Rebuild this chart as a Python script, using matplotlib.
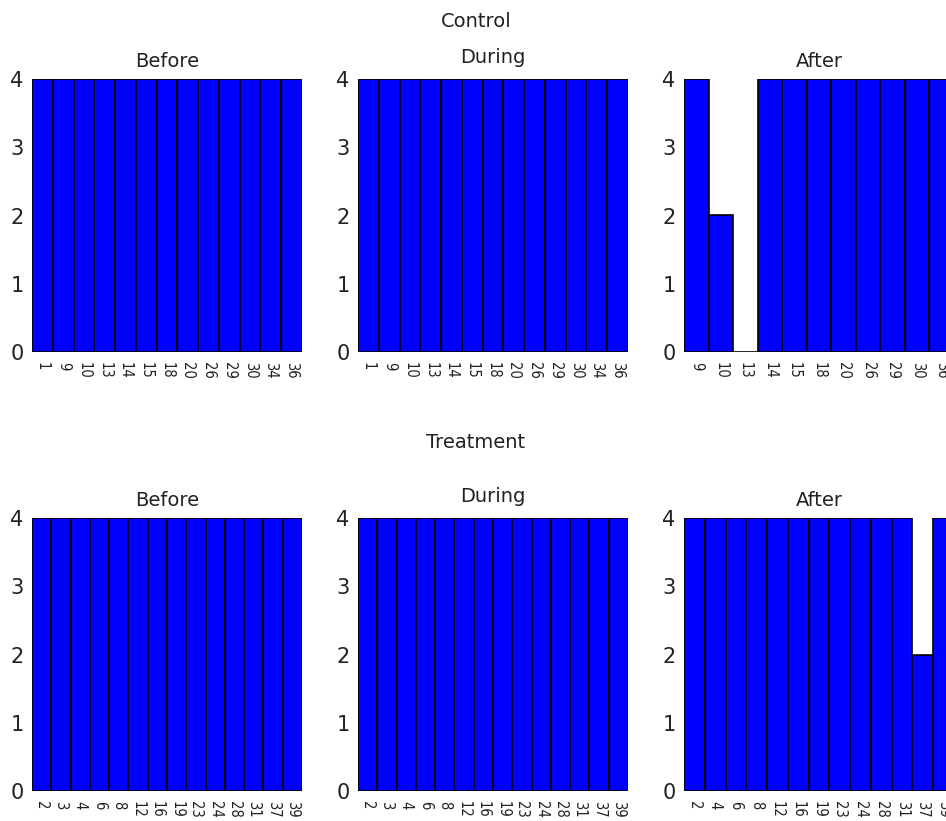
import matplotlib
matplotlib.use('Agg')
import matplotlib.pyplot as plt

# subject ids and counts per period
control_before_ids = [1, 9, 10, 13, 14, 15, 18, 20, 26, 29, 30, 34, 36]
control_before = [4, 4, 4, 4, 4, 4, 4, 4, 4, 4, 4, 4, 4]
control_during_ids = [1, 9, 10, 13, 14, 15, 18, 20, 26, 29, 30, 34, 36]
control_during = [4, 4, 4, 4, 4, 4, 4, 4, 4, 4, 4, 4, 4]
control_after_ids = [9, 10, 13, 14, 15, 18, 20, 26, 29, 30, 36]
control_after = [4, 2, 0, 4, 4, 4, 4, 4, 4, 4, 4]

treat_before_ids = [2, 3, 4, 6, 8, 12, 16, 19, 23, 24, 28, 31, 37, 39]
treat_before = [4, 4, 4, 4, 4, 4, 4, 4, 4, 4, 4, 4, 4, 4]
treat_during_ids = [2, 3, 4, 6, 8, 12, 16, 19, 23, 24, 28, 31, 37, 39]
treat_during = [4, 4, 4, 4, 4, 4, 4, 4, 4, 4, 4, 4, 4, 4]
treat_after_ids = [2, 4, 6, 8, 12, 16, 19, 23, 24, 28, 31, 37, 39]
treat_after = [4, 4, 4, 4, 4, 4, 4, 4, 4, 4, 4, 2, 4]

periods = ['Before', 'During', 'After']

W = 946.0
H = 821.0
fig = plt.figure(figsize=(W/100, H/100), dpi=100)
plt.rcParams['font.family'] = 'DejaVu Sans'


def draw(left, bottom, ids, counts, title):
	ax = fig.add_axes([left/W, bottom/H, 270/W, 273/H])
	x = range(len(ids))
	ax.bar(x, counts, width=1.0, color='#0000ff', edgecolor='black', linewidth=1.2)
	ax.set_xlim(-0.5, len(ids)-0.5)
	ax.set_ylim(0, 4)
	ax.set_yticks([0, 1, 2, 3, 4])
	ax.set_xticks(list(x))
	ax.set_xticklabels([str(i) for i in ids], rotation=270, fontsize=10.5, fontstretch='condensed')
	ax.tick_params(axis='y', length=0, pad=6, labelsize=15, labelcolor='#222222')
	ax.tick_params(axis='x', length=0, pad=7, labelcolor='#222222')
	for s in ax.spines.values():
		s.set_visible(False)
	pad = 8.5
	if title == 'During':
		pad = 11.5
	ax.set_title(title, fontsize=14, pad=pad, color='#222222')
	return ax


lefts = [32, 358, 684]
rows = [
	(821-352, [control_before_ids, control_during_ids, control_after_ids], [control_before, control_during, control_after]),
	(821-791, [treat_before_ids, treat_during_ids, treat_after_ids], [treat_before, treat_during, treat_after]),
]
for bottom, idlists, countlists in rows:
	for i in range(3):
		draw(lefts[i], bottom, idlists[i], countlists[i], periods[i])

fig.text(476/W, 1-27/H, 'Control', ha='center', va='baseline', fontsize=14, color='#222222')
fig.text(476/W, 1-448/H, 'Treatment', ha='center', va='baseline', fontsize=14, color='#222222')

fig.savefig('out.png', dpi=100)
